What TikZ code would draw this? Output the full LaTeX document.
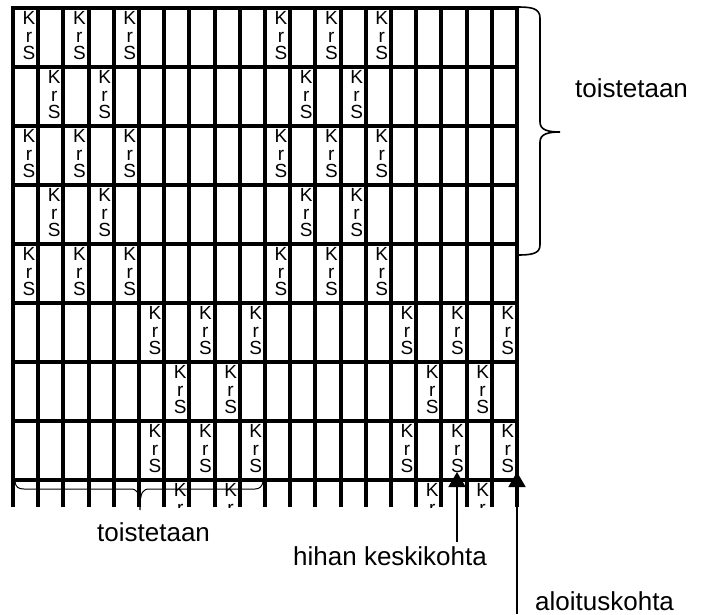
\documentclass[tikz,border=0pt]{standalone}
\usepackage{fontspec}
\setmainfont{Liberation Sans}
\usetikzlibrary{arrows.meta, positioning}

\begin{document}
\begin{tikzpicture}[
      x=1pt, y=-1pt,
      every node/.style={inner sep=0pt},
      gridline/.style={line width=4pt},
      stitch/.style={anchor=north, align=center,
                     font=\fontsize{19}{17.5}\selectfont},
      notetext/.style={anchor=base west, font=\fontsize{26}{30}\selectfont},
      bracket/.style={line width=1.6pt},
      marker/.style={-{Triangle[width=17pt, length=15pt]}, line width=1.8pt},
    ]
      \useasboundingbox (0,0) rectangle (702,614);

      \begin{scope}
        \clip (0,0) rectangle (702,507);
        \foreach \i in {0,...,20}
          \draw[gridline] (13+25.2*\i, 6) -- (13+25.2*\i, 507);
        \foreach \j in {0,...,8}
          \draw[gridline] (11, 8+59*\j) -- (519, 8+59*\j);
        \foreach \row/\cols in {0/{0,2,4}, 1/{1,3}, 2/{0,2,4}, 3/{1,3}, 4/{0,2,4},
                                5/{5,7,9}, 6/{6,8}, 7/{5,7,9}}
          \foreach \c in \cols
            \foreach \rep in {0,10} {
              \pgfmathtruncatemacro\col{\c+\rep}
              \node[stitch] (st-\row-\col) at (13+25.2*\col+16, 8+59*\row+3.5) {K\\r\\S};
            }
        % cut-off row
        \foreach \c in {6,8,16,18}
          \node[stitch] (st-8-\c) at (13+25.2*\c+16, 8+59*8+3.5) {K\\r};
      \end{scope}

      % braces
      \draw[bracket] (517,7) .. controls (531,7) and (540,8) .. (540,18)
        -- (540,122) .. controls (540,130) and (548,132) .. (560,132)
        .. controls (548,132) and (540,134) .. (540,142)
        -- (540,245) .. controls (540,254) and (531,255) .. (517,255);
      \draw[line width=1pt] (15,482) .. controls (16,487) and (18,489) .. (24,489)
        -- (130,489) .. controls (137,489) and (140,491) .. (140,510)
        .. controls (140,491) and (143,489) .. (150,489)
        -- (255,489) .. controls (260,489) and (262,486) .. (263,482);

      \node[notetext] (repeatright)  at (575,97)    {toistetaan};
      \node[notetext] (repeatbottom) at (97,541.7)  {toistetaan};
      \node[notetext] (sleevemid)    at (293,565.7) {hihan keskikohta};
      \node[notetext] (startpoint)   at (535,610)   {aloituskohta};

      \coordinate (midtip)    at (457,472);
      \coordinate (midfoot)   at (457,542);
      \coordinate (starttip)  at (517,472);
      \coordinate (startfoot) at (517,614);
      \draw[marker] (midfoot) -- (midtip);
      \draw[marker] (startfoot) -- (starttip);
    \end{tikzpicture}
\end{document}
